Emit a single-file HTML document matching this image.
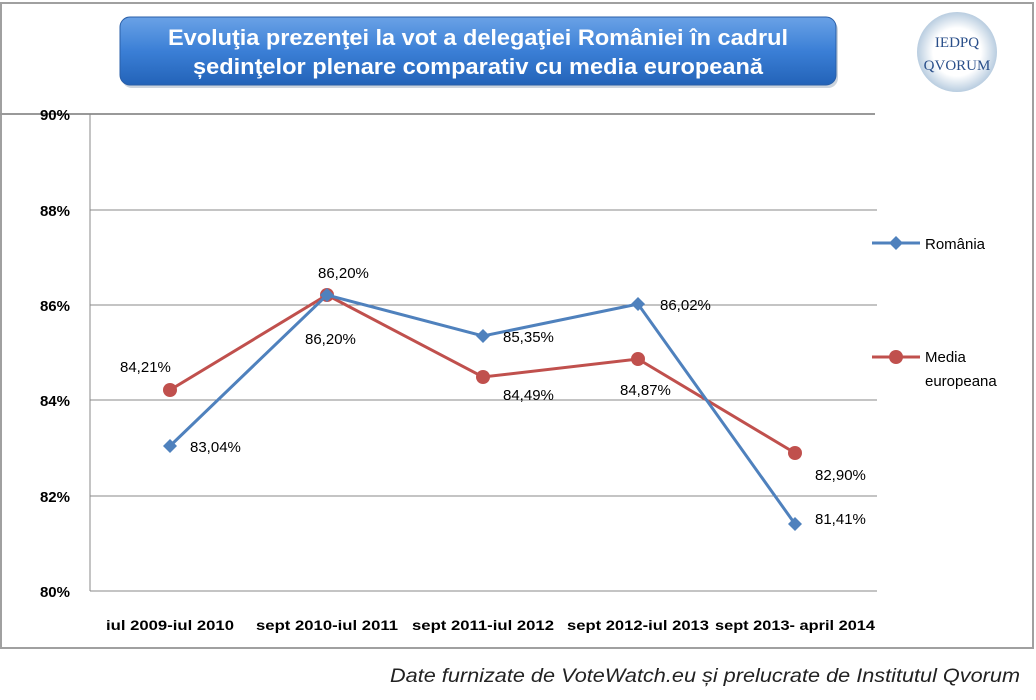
<!DOCTYPE html>
<html><head><meta charset="utf-8"><style>
body{margin:0;background:#fff;width:1036px;height:700px;overflow:hidden;font-family:"Liberation Sans",sans-serif}
</style></head><body>
<svg width="1036" height="700" xmlns="http://www.w3.org/2000/svg" style="position:absolute;left:0;top:0">
<defs>
<linearGradient id="tb" x1="0" y1="0" x2="0" y2="1">
<stop offset="0" stop-color="#6aa2e6"/><stop offset="0.5" stop-color="#3b7fd6"/><stop offset="1" stop-color="#2363b8"/></linearGradient>
<radialGradient id="lg" cx="0.5" cy="0.5" r="0.5"><stop offset="0.6" stop-color="#fff"/><stop offset="1" stop-color="#b9cde0"/></radialGradient>
</defs>
<rect x="1" y="3" width="1032" height="645" fill="none" stroke="#a0a0a0" stroke-width="2"/>
<line x1="0" y1="114" x2="875" y2="114" stroke="#999" stroke-width="2"/>
<rect x="122" y="20" width="716" height="68" rx="10" fill="#9ab" opacity="0.5"/>
<rect x="120" y="17" width="716" height="68" rx="10" fill="url(#tb)" stroke="#2a5fa8"/>
<text x="478" y="45" text-anchor="middle" font-size="22" font-weight="bold" fill="#fff" textLength="620" lengthAdjust="spacingAndGlyphs">Evoluţia prezenţei la vot a delegaţiei României în cadrul</text>
<text x="478" y="74" text-anchor="middle" font-size="22" font-weight="bold" fill="#fff" textLength="570" lengthAdjust="spacingAndGlyphs">ședinţelor plenare comparativ cu media europeană</text>
<circle cx="957" cy="52" r="40" fill="url(#lg)"/>
<text x="957" y="47" text-anchor="middle" font-family="Liberation Serif" font-size="15" fill="#2a4f8a">IEDPQ</text>
<text x="957" y="70" text-anchor="middle" font-family="Liberation Serif" font-size="15" fill="#2a4f8a">QVORUM</text>
<g stroke="#888" stroke-width="1">
<line x1="90" y1="210" x2="877" y2="210"/><line x1="90" y1="305" x2="877" y2="305"/>
<line x1="90" y1="400" x2="877" y2="400"/><line x1="90" y1="496" x2="877" y2="496"/>
<line x1="90" y1="591" x2="877" y2="591"/><line x1="90" y1="114" x2="90" y2="591"/>
</g>
<g font-size="15" font-weight="bold" fill="#000" text-anchor="end">
<text x="70" y="120">90%</text><text x="70" y="216">88%</text><text x="70" y="311">86%</text>
<text x="70" y="406">84%</text><text x="70" y="502">82%</text><text x="70" y="597">80%</text>
</g>
<g font-size="14" font-weight="bold" fill="#000" text-anchor="middle">
<text x="170" y="630" textLength="128" lengthAdjust="spacingAndGlyphs">iul 2009-iul 2010</text><text x="327" y="630" textLength="142" lengthAdjust="spacingAndGlyphs">sept 2010-iul 2011</text>
<text x="483" y="630" textLength="142" lengthAdjust="spacingAndGlyphs">sept 2011-iul 2012</text><text x="638" y="630" textLength="142" lengthAdjust="spacingAndGlyphs">sept 2012-iul 2013</text>
<text x="795" y="630" textLength="160" lengthAdjust="spacingAndGlyphs">sept 2013- april 2014</text>
</g>
<polyline points="170,390 327,295 483,377 638,359 795,453" fill="none" stroke="#c0504d" stroke-width="3"/>
<g fill="#c0504d"><circle cx="170" cy="390" r="7"/><circle cx="327" cy="295" r="7"/><circle cx="483" cy="377" r="7"/><circle cx="638" cy="359" r="7"/><circle cx="795" cy="453" r="7"/></g>
<polyline points="170,446 327,295 483,336 638,304 795,524" fill="none" stroke="#4f81bd" stroke-width="3"/>
<g fill="#4f81bd">
<path d="M170 439l7 7-7 7-7-7z"/><path d="M327 288l7 7-7 7-7-7z"/><path d="M483 329l7 7-7 7-7-7z"/><path d="M638 297l7 7-7 7-7-7z"/><path d="M795 517l7 7-7 7-7-7z"/>
</g>
<g font-size="15" fill="#000">
<text x="120" y="372">84,21%</text><text x="190" y="452">83,04%</text>
<text x="318" y="278">86,20%</text><text x="305" y="344">86,20%</text>
<text x="503" y="342">85,35%</text><text x="503" y="400">84,49%</text>
<text x="660" y="310">86,02%</text><text x="620" y="395">84,87%</text>
<text x="815" y="480">82,90%</text><text x="815" y="524">81,41%</text>
</g>
<line x1="872" y1="243" x2="920" y2="243" stroke="#4f81bd" stroke-width="3"/>
<path d="M896 236l7 7-7 7-7-7z" fill="#4f81bd"/>
<text x="925" y="249" font-size="15">România</text>
<line x1="872" y1="357" x2="920" y2="357" stroke="#c0504d" stroke-width="3"/>
<circle cx="896" cy="357" r="7" fill="#c0504d"/>
<text x="925" y="362" font-size="15">Media</text>
<text x="925" y="386" font-size="15">europeana</text>
<text x="1020" y="682" text-anchor="end" font-size="19" font-style="italic" fill="#222" textLength="630" lengthAdjust="spacingAndGlyphs">Date furnizate de VoteWatch.eu și prelucrate de Institutul Qvorum</text>
</svg>
</body></html>
